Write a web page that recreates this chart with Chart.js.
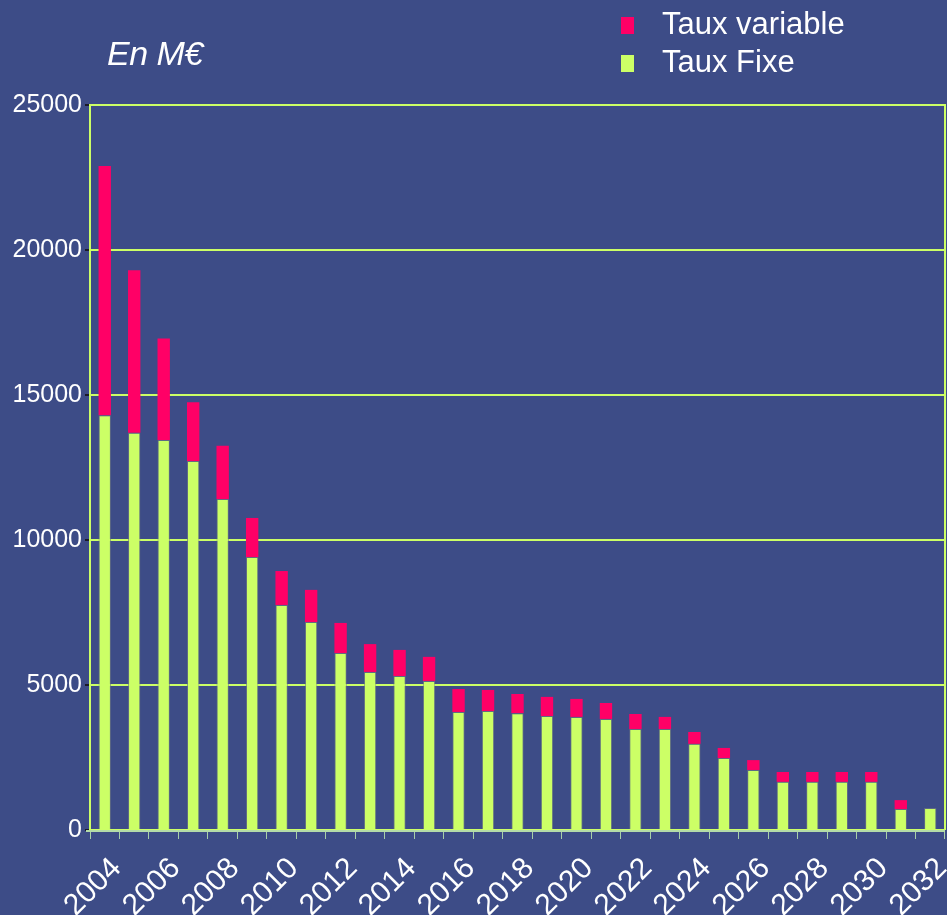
<!DOCTYPE html>
<html lang="fr">
<head>
  <meta charset="UTF-8">
  <title>Encours de dette par échéance</title>
  <script src="https://cdn.jsdelivr.net/npm/chart.js"></script>
  <style>
    html, body {
      margin: 0;
      padding: 0;
      background: #3d4c87;
      font-family: 'Liberation Sans', Arial, sans-serif;
      color: #ffffff;
    }
    .wrap {
      position: relative;
      width: 947px;
      height: 915px;
      overflow: hidden;
    }
    .unit {
      position: absolute;
      left: 107px;
      top: 34px;
      font-size: 34px;
      font-style: italic;
      letter-spacing: -0.5px;
    }
    .legend {
      position: absolute;
      left: 621px;
      top: 5px;
      font-size: 31px;
    }
    .legend div {
      height: 38px;
      line-height: 38px;
      white-space: nowrap;
    }
    .legend span.box {
      display: inline-block;
      width: 13px;
      height: 17px;
      margin-right: 28px;
      vertical-align: 0px;
    }
  </style>
</head>
<body>
  <div class="wrap">
    <canvas id="detteChart" width="947" height="915"></canvas>
    <div class="unit">En M€</div>
    <div class="legend" id="legend"></div>
  </div>

  <script>
    // Années d'échéance
    const annees = ['2004', '2005', '2006', '2007', '2008', '2009', '2010', '2011', '2012', '2013',
                    '2014', '2015', '2016', '2017', '2018', '2019', '2020', '2021', '2022', '2023',
                    '2024', '2025', '2026', '2027', '2028', '2029', '2030', '2031', '2032'];

    // Encours à taux fixe (M€)
    const tauxFixe = [14300, 13700, 13450, 12720, 11410, 9410, 7760, 7170, 6100, 5450,
                      5310, 5140, 4070, 4100, 4030, 3930, 3900, 3830, 3480, 3480,
                      2970, 2480, 2070, 1660, 1660, 1660, 1660, 720, 760];

    // Encours à taux variable (M€), empilé au-dessus
    const tauxVariable = [8600, 5600, 3500, 2030, 1840, 1350, 1170, 1110, 1040, 960,
                          900, 830, 790, 730, 660, 660, 620, 550, 520, 420,
                          410, 350, 340, 340, 340, 340, 340, 310, 0];

    const yTicks = [0, 5000, 10000, 15000, 20000, 25000];

    const vert = '#ccff66';
    const rouge = '#ff0066';

    // Légende (ordre inverse de l'empilement)
    const legendItems = [['Taux variable', rouge], ['Taux Fixe', vert]];
    document.getElementById('legend').innerHTML = legendItems
      .map(it => '<div><span class="box" style="background:' + it[1] + '"></span>' + it[0] + '</div>')
      .join('');

    // Cadre du graphique
    const cadre = {
      id: 'cadre',
      afterDraw(chart) {
        const a = chart.chartArea;
        const ctx = chart.ctx;
        ctx.save();
        ctx.strokeStyle = vert;
        ctx.lineWidth = 2;
        ctx.beginPath();
        ctx.moveTo(a.left, a.top);
        ctx.lineTo(a.right, a.top);
        ctx.lineTo(a.right, a.bottom);
        ctx.stroke();
        ctx.strokeStyle = '#b4dca8';
        ctx.lineWidth = 2;
        ctx.beginPath();
        ctx.moveTo(a.left - 4, a.bottom + 1);
        ctx.lineTo(a.right, a.bottom + 1);
        ctx.stroke();
        ctx.restore();
      }
    };

    const detteChart = new Chart(document.getElementById('detteChart'), {
      type: 'bar',
      data: {
        labels: annees,
        datasets: [
          {
            label: 'Taux Fixe',
            data: tauxFixe,
            backgroundColor: vert,
            borderColor: 'rgba(110,120,130,0.7)',
            borderWidth: 1,
            barPercentage: 0.42,
            categoryPercentage: 1
          },
          {
            label: 'Taux variable',
            data: tauxVariable,
            backgroundColor: rouge,
            borderWidth: 0,
            barPercentage: 0.42,
            categoryPercentage: 1
          }
        ]
      },
      options: {
        responsive: false,
        animation: false,
        layout: { padding: { top: 105, right: 2, left: 0, bottom: 0 } },
        plugins: {
          legend: { display: false },
          tooltip: { enabled: false }
        },
        scales: {
          x: {
            stacked: true,
            afterFit(scale) {
              scale.height = 85;
              scale.paddingLeft = 0;
              scale.paddingRight = 0;
            },
            grid: {
              drawOnChartArea: false,
              drawTicks: true,
              tickLength: 9,
              tickColor: '#a8d0a8',
              offset: true
            },
            border: { display: false },
            ticks: {
              autoSkip: false,
              maxRotation: 45,
              minRotation: 45,
              labelOffset: 12,
              padding: 12,
              color: '#ffffff',
              font: { family: "'Liberation Sans', Arial, sans-serif", size: 30 },
              callback: (v, i) => (i % 2 === 0 ? annees[i] : '')
            }
          },
          y: {
            stacked: true,
            min: 0,
            max: 25000,
            afterFit(scale) { scale.width = 90; },
            afterBuildTicks(scale) { scale.ticks = yTicks.map(v => ({ value: v })); },
            grid: {
              color: vert,
              lineWidth: 2,
              drawTicks: true,
              tickLength: 5,
              tickColor: '#1a1a2a'
            },
            border: { display: true, color: vert, width: 2 },
            ticks: {
              padding: 3,
              color: '#ffffff',
              font: { family: "'Liberation Sans', Arial, sans-serif", size: 25 },
              callback: v => String(v)
            }
          }
        }
      },
      plugins: [cadre]
    });
  </script>
</body>
</html>
